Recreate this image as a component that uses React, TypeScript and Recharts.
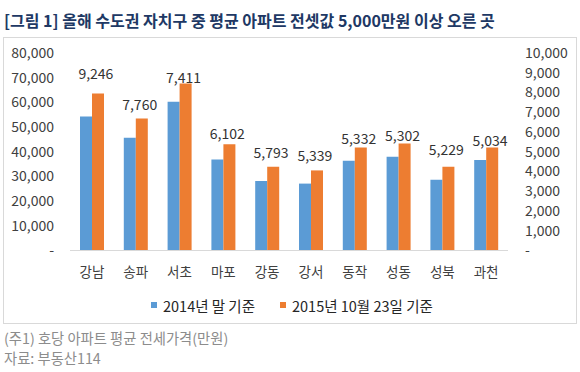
import React from 'react';
import { ComposedChart, Bar, Line, XAxis, YAxis, LabelList } from 'recharts';

const categories = ['강남', '송파', '서초', '마포', '강동', '강서', '동작', '성동', '성북', '과천'];
const values2014 = [54300, 45700, 60250, 36900, 28150, 27100, 36400, 38000, 28700, 36700];
const values2015 = [63546, 53460, 67661, 43002, 33943, 32439, 41732, 43302, 33929, 41734];
const increaseLabels = [9246, 7760, 7411, 6102, 5793, 5339, 5332, 5302, 5229, 5034];
// position of the increase labels, on the secondary (right) axis
const labelAnchor = [9000, 7400, 8800, 5950, 5000, 4850, 5700, 5850, 5150, 5600];
const leftTicks = [0, 10000, 20000, 30000, 40000, 50000, 60000, 70000, 80000];
const rightTicks = [0, 1000, 2000, 3000, 4000, 5000, 6000, 7000, 8000, 9000, 10000];
const seriesNames = ['2014년 말 기준', '2015년 10월 23일 기준'];
const seriesColors = ['#5b9bd5', '#ed7d31'];
const titleText = '[그림 1] 올해 수도권 자치구 중 평균 아파트 전셋값 5,000만원 이상 오른 곳';
const footnotes = ['(주1) 호당 아파트 평균 전세가격(만원)', '자료: 부동산114'];

const data = categories.map((c, i) => ({
  name: c,
  v2014: values2014[i],
  v2015: values2015[i],
  inc: increaseLabels[i],
  anchor: labelAnchor[i],
}));

const FONT = '"Noto Sans CJK KR", "Noto Sans", sans-serif';
const fmt = (v: number) => (v === 0 ? '-' : v.toLocaleString('en-US'));

const IncLabel = (props: any) => {
  const { x, y, value } = props;
  return (
    <text x={x + 4} y={y} textAnchor="middle" dominantBaseline="central" fill="#333" fontSize={14} fontFamily={FONT}>
      {Number(value).toLocaleString('en-US')}
    </text>
  );
};

export default function App() {
  return (
    <div style={{ position: 'absolute', left: 0, top: 0, width: 580, height: 372, background: '#fff', fontFamily: FONT }}>
      <div style={{ position: 'absolute', left: 4, top: 10, lineHeight: '20px', fontSize: 16, fontWeight: 700, color: '#203864', whiteSpace: 'nowrap' }}>
        {titleText}
      </div>
      <div style={{ position: 'absolute', left: 3, top: 37, width: 572, height: 285, border: '1px solid #d9d9d9' }} />
      <div style={{ position: 'absolute', left: 0, top: 0 }}>
        <ComposedChart width={580} height={372} data={data} margin={{ top: 53, right: 0, bottom: 91.5, left: 0 }} barGap={0}>
          <XAxis dataKey="name" height={30} tickLine={false} tickSize={0} tickMargin={17}
            axisLine={{ stroke: '#d9d9d9' }} tick={{ fill: '#404040', fontSize: 13.5, fontFamily: FONT }} interval={0} />
          <YAxis yAxisId="left" orientation="left" width={70} domain={[0, 80000]} ticks={leftTicks}
            axisLine={false} tickLine={false} tickSize={6} tickMargin={10} tickFormatter={fmt}
            tick={{ fill: '#404040', fontSize: 14, fontFamily: FONT }} interval={0} />
          <YAxis yAxisId="right" orientation="right" width={72} domain={[0, 10000]} ticks={rightTicks}
            axisLine={false} tickLine={false} tickSize={6} tickMargin={11} tickFormatter={fmt}
            tick={{ fill: '#404040', fontSize: 14, fontFamily: FONT }} interval={0} />
          <Bar yAxisId="left" dataKey="v2014" name={seriesNames[0]} fill={seriesColors[0]} barSize={12} isAnimationActive={false} />
          <Bar yAxisId="left" dataKey="v2015" name={seriesNames[1]} fill={seriesColors[1]} barSize={12} isAnimationActive={false} />
          <Line yAxisId="right" dataKey="anchor" stroke="none" dot={false} activeDot={false} isAnimationActive={false}>
            <LabelList dataKey="inc" content={IncLabel} />
          </Line>
        </ComposedChart>
      </div>
      {seriesNames.map((n, i) => (
        <div key={n} style={{ position: 'absolute', left: i === 0 ? 151 : 280, top: 295, height: 20, display: 'flex', alignItems: 'center', whiteSpace: 'nowrap' }}>
          <span style={{ display: 'inline-block', width: 6, height: 6, background: seriesColors[i], marginRight: 6 }} />
          <span style={{ fontSize: 14.5, color: '#262626' }}>{n}</span>
        </div>
      ))}
      {footnotes.map((t, i) => (
        <div key={t} style={{ position: 'absolute', left: 4, top: 328 + i * 20, lineHeight: '20px', fontSize: 14.3, color: '#8c8c8c', whiteSpace: 'nowrap' }}>
          {t}
        </div>
      ))}
    </div>
  );
}
